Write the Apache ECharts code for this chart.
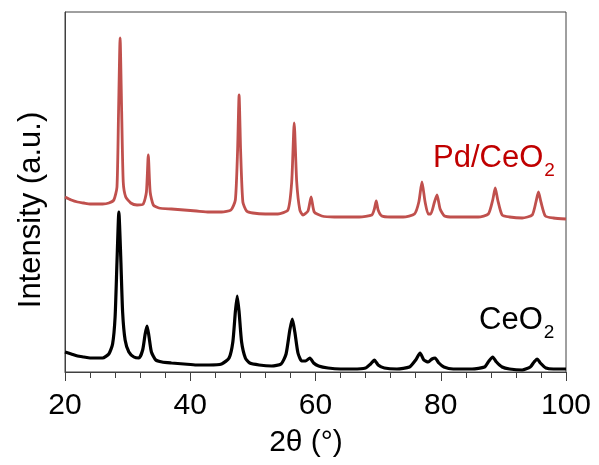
<!DOCTYPE html>
<html>
<head>
<meta charset="utf-8">
<script src="https://cdn.jsdelivr.net/npm/echarts@6/dist/echarts.min.js"></script>
<style>
html,body{margin:0;padding:0;background:#fff;}
#main{width:599px;height:465px;}
</style>
</head>
<body>
<div id="main"></div>
<script>
// 2θ (°) and intensity (a.u., offset already included)
var ceo2X = [20,21,22,23,24,25,26,27,27.6,28,28.3,28.6,28.9,29.2,29.6,30.2,31,31.8,32.4,32.8,33.1,33.4,33.8,34.5,35.5,37,39,41,43,45,46.2,46.8,47.2,47.5,47.8,48.2,48.8,49.5,51,53,54.5,55.3,55.9,56.3,56.7,57.2,57.8,58.4,59.1,59.7,60.5,62,64,66,68,68.8,69.4,70,71,73,75,76,76.7,77.3,78,78.6,79.1,79.7,80.5,82,85,87,87.7,88.3,88.9,89.8,91,93,94.3,94.9,95.4,95.9,96.8,98,100];
var ceo2Y = [20,18,16,15,14,14,14,18,28,55,110,160,115,60,32,20,15,14,22,38,46,36,20,12,10,9,8,7,7,8,14,30,60,76,60,30,14,9,7,6,8,18,42,53,40,19,11,11,14,9,6,4,3,3,4,8,12,7,4,3,5,12,19,12,10,13,14,9,5,3,3,5,11,15,10,5,3,2,5,10,13,9,4,3,3];
var pdX = [20,21,22,23,24,25,26,27,27.8,28.3,28.55,28.8,29.05,29.3,29.7,30.5,31.5,32.5,33,33.3,33.6,34.1,35,37,39,41,43,45,46.5,47.2,47.55,47.8,48.05,48.4,49,50,52,54,55.6,56.2,56.6,57,57.5,58,58.8,59.3,59.8,61,63,65,67,69,69.4,69.7,70,70.6,72,74,75.8,76.5,77,77.5,78,78.4,79,79.4,79.9,80.6,82,84,86,87.6,88.3,88.7,89.1,89.8,91,93,94.6,95.2,95.6,96,96.7,98,100];
var pdY = [175,172,170,169,168,168,168,169,172,185,260,334,260,190,175,169,167,168,180,217,180,167,164,163,162,161,160,160,162,172,220,277,220,170,161,159,158,158,162,190,249,190,162,157,161,175,160,156,155,155,155,157,163,171,162,156,155,155,158,170,190,170,158,158,170,177,163,156,155,155,155,158,172,184,172,157,155,154,157,170,180,170,156,154,153];
var xTicks = [20,40,60,80,100];

function pairs(xs, ys){ return xs.map(function(x,i){ return [x, ys[i]]; }); }

var chart = echarts.init(document.getElementById('main'));
var FONT = '"Liberation Sans", Arial, sans-serif';
chart.setOption({
  animation:false,
  backgroundColor:'#fff',
  grid:{left:65, right:33, top:12, bottom:93, show:true, borderColor:'#404040', borderWidth:1, backgroundColor:'transparent'},
  xAxis:{
    type:'value', min:xTicks[0], max:xTicks[xTicks.length-1], interval:20,
    axisLine:{show:true, onZero:false, lineStyle:{color:'#404040', width:1}},
    axisTick:{show:true, inside:false, length:9, lineStyle:{color:'#404040', width:1}},
    minorTick:{show:true, splitNumber:5, length:6, lineStyle:{color:'#404040', width:1}},
    splitLine:{show:false},
    axisLabel:{color:'#000', fontSize:30, fontFamily:FONT, margin:19}
  },
  yAxis:{
    type:'value', min:0, max:360,
    axisLine:{show:true, lineStyle:{color:'#404040', width:1}},
    axisTick:{show:false}, axisLabel:{show:false}, splitLine:{show:false}
  },
  series:[
    {type:'line', name:'CeO2', data:pairs(ceo2X, ceo2Y), showSymbol:false, smooth:0.2,
     lineStyle:{color:'#000', width:3.2}},
    {type:'line', name:'Pd/CeO2', data:pairs(pdX, pdY), showSymbol:false, smooth:0.2,
     lineStyle:{color:'#c0504d', width:2.8}}
  ],
  graphic:[
    {type:'text', x:31, y:210, rotation:Math.PI/2,
     style:{text:'Intensity (a.u.)', fontSize:31, fontFamily:FONT, fill:'#000', align:'center', verticalAlign:'middle'}},
    {type:'text', x:306, y:443,
     style:{text:'2θ (°)', fontSize:30, fontFamily:FONT, fill:'#000', align:'center', verticalAlign:'middle'}},
    {type:'text', x:433, y:143,
     style:{text:'{a|Pd/CeO}{b|2}', fill:'#c00000', fontFamily:FONT,
       rich:{a:{fontSize:31, fontFamily:FONT, fill:'#c00000', color:'#c00000', verticalAlign:'bottom'},
             b:{fontSize:19, fontFamily:FONT, fill:'#c00000', color:'#c00000', verticalAlign:'bottom', padding:[0,0,-6,1]}}}},
    {type:'text', x:479, y:305,
     style:{text:'{a|CeO}{b|2}', fill:'#000', fontFamily:FONT,
       rich:{a:{fontSize:31, fontFamily:FONT, fill:'#000', color:'#000', verticalAlign:'bottom'},
             b:{fontSize:19, fontFamily:FONT, fill:'#000', color:'#000', verticalAlign:'bottom', padding:[0,0,-6,1]}}}}
  ]
});
</script>
</body>
</html>
